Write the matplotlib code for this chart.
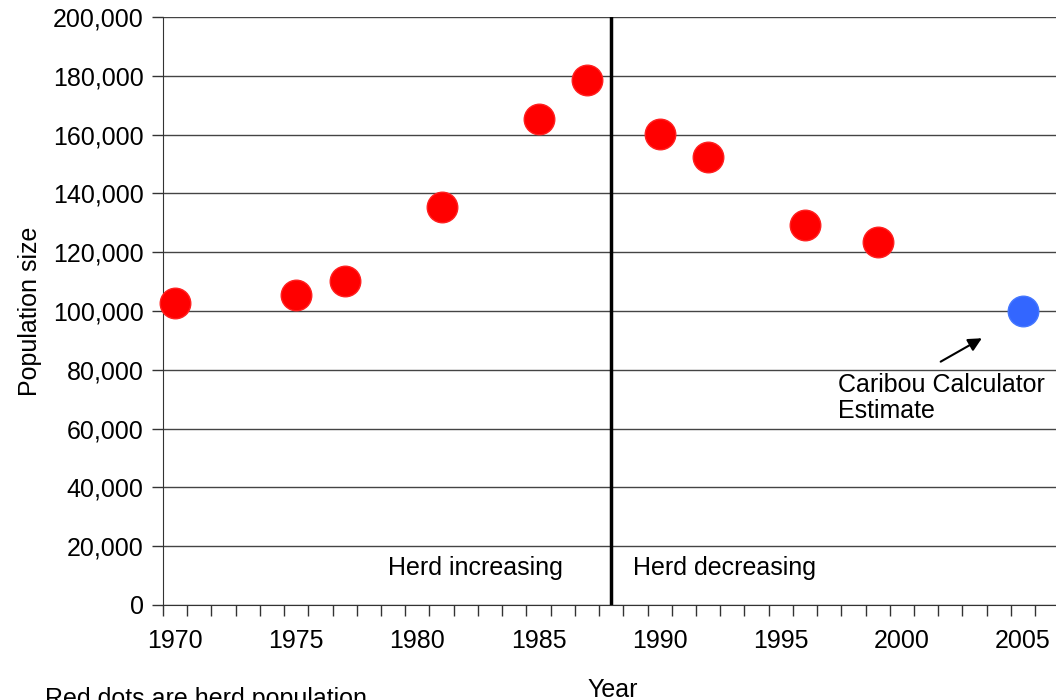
import matplotlib
matplotlib.use("Agg")
import matplotlib.pyplot as plt
from matplotlib.ticker import FuncFormatter, MultipleLocator, FixedLocator
from matplotlib import rcParams
rcParams['font.family'] = ['Liberation Sans', 'DejaVu Sans']

# herd counts
herd_years = [1970, 1975, 1977, 1981, 1985, 1987, 1990, 1992, 1996, 1999]
herd_pop = [102700, 105400, 110200, 135400, 165300, 178600, 160200, 152400, 129300, 123500]
est_year = [2005]
est_pop = [100000]
turn_year = 1988

fs = 18
fig = plt.figure(figsize=(10.56, 7.0), dpi=100)
ax = fig.add_axes([163/1056, 1-605/700, 1-163/1056, (605-17)/700])

ax.set_xlim(1969.5, 2006.36)
ax.set_ylim(0, 200000)

ax.yaxis.set_major_locator(MultipleLocator(20000))
ax.yaxis.grid(True, color='#444444', linewidth=1)
ax.set_axisbelow(True)
ax.yaxis.set_major_formatter(FuncFormatter(lambda y, _: '{:,.0f}'.format(y)))

ax.xaxis.set_major_locator(FixedLocator(range(1970, 2006, 5)))
ax.xaxis.set_minor_locator(FixedLocator([y + 0.5 for y in range(1969, 2006)]))
ax.tick_params(axis='x', which='major', length=0, pad=17, labelsize=fs)
ax.tick_params(axis='x', which='minor', length=8, width=1, color='#333333', direction='out')
ax.tick_params(axis='y', length=8, width=1, color='#333333', labelsize=fs, pad=6)

for s in ['top', 'right']:
    ax.spines[s].set_visible(False)
ax.spines['left'].set_color('#333333')
ax.spines['bottom'].set_color('#333333')

ax.axvline(turn_year, color='black', linewidth=2.5)

ax.plot(herd_years, herd_pop, 'o', color='#ff0000', ms=22, mec='#ff2020', clip_on=False, zorder=5)
ax.plot(est_year, est_pop, 'o', color='#3366ff', ms=22, mec='#4477ff', clip_on=False, zorder=5)

ax.text(1982.4, 12500, 'Herd increasing', ha='center', va='center', fontsize=fs)
ax.text(1988.9, 12500, 'Herd decreasing', ha='left', va='center', fontsize=fs)
ax.text(1997.35, 79000, 'Caribou Calculator\nEstimate', ha='left', va='top', fontsize=fs, linespacing=1.1)
ax.annotate('', xy=(2003.4, 91200), xytext=(2001.5, 82300),
            arrowprops=dict(arrowstyle='-|>', color='black', lw=1.5, mutation_scale=20))

ax.set_ylabel('Population size', fontsize=fs)
ax.yaxis.set_label_coords(-163/1056 + 20/1056, 0.5, transform=ax.transAxes)
fig.text(613/1056, 1-690/700, 'Year', ha='center', va='center', fontsize=fs)
fig.text(45/1056, 1-699/700, 'Red dots are herd population', ha='left', va='center', fontsize=fs)

plt.savefig('out.png', dpi=100)
